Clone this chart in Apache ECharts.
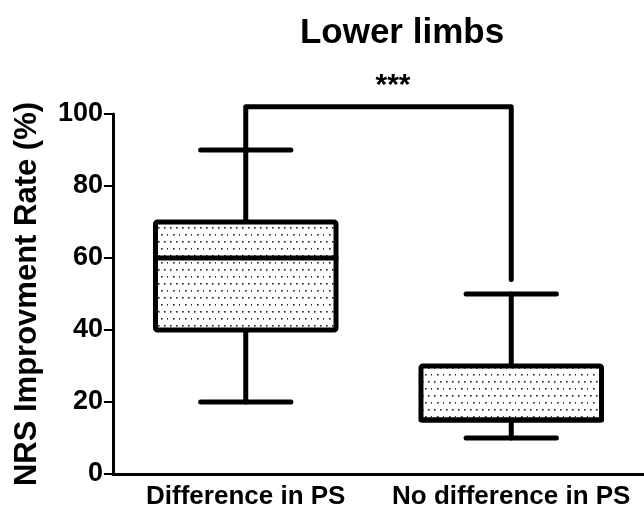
<!DOCTYPE html>
<html>
<head>
<meta charset="utf-8">
<script src="https://cdn.jsdelivr.net/npm/echarts@6/dist/echarts.min.js"></script>
<style>
html,body{margin:0;padding:0;background:#fff;}
#chart{width:644px;height:513px;}
</style>
</head>
<body>
<div id="chart"></div>
<script>
// data
const categories = ['Difference in PS', 'No difference in PS'];
const minVals = [20, 10];
const q1Vals = [40, 15];
const medianVals = [60, 15];
const q3Vals = [70, 30];
const maxVals = [90, 50];
// significance bracket (category index, value)
const bracketX = [0, 0, 1, 1];
const bracketY = [90, 102, 102, 54];
const yMin = 0, yMax = 100, yStep = 20;

const FONT = 'Liberation Sans';

// dotted fill pattern
const pat = document.createElement('canvas');
pat.width = 12; pat.height = 14;
const pc = pat.getContext('2d');
pc.fillStyle = '#fff';
pc.fillRect(0, 0, 12, 14);
pc.fillStyle = '#222';
[[2, 3], [8, 3], [5, 10], [11, 10]].forEach(p => pc.fillRect(p[0], p[1], 1.6, 1.6));

const boxData = categories.map((c, i) => [i, minVals[i], q1Vals[i], medianVals[i], q3Vals[i], maxVals[i]]);
const bracketData = bracketX.map((x, i) => [x, bracketY[i]]);

const chart = echarts.init(document.getElementById('chart'));

const renderBox = function (params, api) {
    const idx = api.value(0);
    const pMin = api.coord([idx, api.value(1)]);
    const pQ1 = api.coord([idx, api.value(2)]);
    const pMed = api.coord([idx, api.value(3)]);
    const pQ3 = api.coord([idx, api.value(4)]);
    const pMax = api.coord([idx, api.value(5)]);
    const x = pMin[0];
    const bw = api.size([1, 0])[0] * 0.68;
    const cw = bw * 0.5;
    const line = { stroke: '#000', lineWidth: 5, lineCap: 'round' };
    return {
        type: 'group',
        children: [
            { type: 'line', shape: { x1: x, y1: pMin[1], x2: x, y2: pQ1[1] }, style: line },
            { type: 'line', shape: { x1: x, y1: pQ3[1], x2: x, y2: pMax[1] }, style: line },
            { type: 'line', shape: { x1: x - cw / 2, y1: pMin[1], x2: x + cw / 2, y2: pMin[1] }, style: line },
            { type: 'line', shape: { x1: x - cw / 2, y1: pMax[1], x2: x + cw / 2, y2: pMax[1] }, style: line },
            {
                type: 'rect',
                shape: { x: x - bw / 2, y: pQ3[1], width: bw, height: pQ1[1] - pQ3[1], r: 2 },
                style: { fill: { image: pat, repeat: 'repeat' }, stroke: '#000', lineWidth: 5 }
            },
            { type: 'line', shape: { x1: x - bw / 2, y1: pMed[1], x2: x + bw / 2, y2: pMed[1] }, style: line }
        ]
    };
};

const option = {
    backgroundColor: '#fff',
    animation: false,
    title: [
        {
            text: 'Lower limbs',
            left: 397, top: 11, textAlign: 'center',
            textStyle: { fontFamily: FONT, fontWeight: 'bold', fontSize: 35, color: '#000' }
        },
        {
            text: '***',
            left: 388, top: 66, textAlign: 'center',
            textStyle: { fontFamily: FONT, fontWeight: 'bold', fontSize: 30, color: '#000' }
        }
    ],
    grid: { left: 113, right: 0, top: 114, bottom: 39, containLabel: false },
    xAxis: {
        type: 'category',
        data: categories,
        axisLine: { lineStyle: { color: '#000', width: 3 } },
        axisTick: { alignWithLabel: true, length: 8, lineStyle: { color: '#000', width: 2 } },
        axisLabel: { interval: 0, hideOverlap: false, fontFamily: FONT, fontWeight: 'bold', fontSize: 26, color: '#000', margin: 10 },
        splitLine: { show: false }
    },
    yAxis: {
        type: 'value',
        min: yMin, max: yMax, interval: yStep,
        name: 'NRS Improvment Rate (%)',
        nameLocation: 'middle',
        nameGap: 70,
        nameTextStyle: { fontFamily: FONT, fontWeight: 'bold', fontSize: 31, color: '#000' },
        axisLine: { show: true, lineStyle: { color: '#000', width: 3 } },
        axisTick: { show: true, length: 9, lineStyle: { color: '#000', width: 2 } },
        axisLabel: { fontFamily: FONT, fontWeight: 'bold', fontSize: 27, color: '#000', margin: 10 },
        splitLine: { show: false }
    },
    series: [
        {
            type: 'custom',
            renderItem: renderBox,
            encode: { x: 0, y: [1, 2, 3, 4, 5] },
            data: boxData,
            clip: false
        },
        {
            type: 'line',
            data: bracketData,
            symbol: 'none',
            clip: false,
            lineStyle: { color: '#000', width: 5, cap: 'round', join: 'round' }
        }
    ]
};

chart.setOption(option);
</script>
</body>
</html>
